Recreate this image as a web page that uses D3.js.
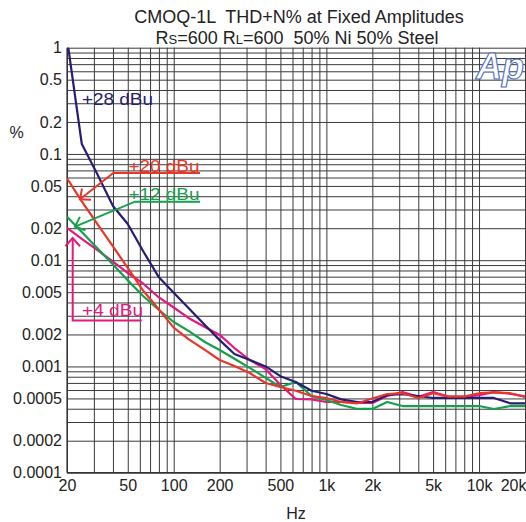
<!DOCTYPE html>
<html>
<head>
<meta charset="utf-8">
<script src="https://cdn.jsdelivr.net/npm/d3@7"></script>
<style>
  body { margin: 0; background: white; }
  text { font-family: "Liberation Sans", Arial, sans-serif; }
</style>
</head>
<body>
<div id="container"></div>
<script>
/* DATA */

// 1/3 octave sweep points, Hz
const freqs = [20, 25, 31.5, 40, 50, 63, 80, 100, 125, 160, 200, 250, 315, 400, 500, 630, 800,
  1000, 1250, 1600, 2000, 2500, 3150, 4000, 5000, 6300, 8000, 10000, 12500, 16000, 20000]

// THD+N %
const dBu28 = [1.22, 0.124, 0.065, 0.0324, 0.0219, 0.0122, 0.0069, 0.00493, 0.00355, 0.00245, 0.00177,
  0.00131, 0.00115, 0.00100, 0.00081, 0.000714, 0.00059, 0.00055, 0.00049, 0.000463, 0.000463,
  0.000539, 0.00055, 0.000527, 0.000505, 0.000505, 0.000505, 0.000505, 0.000505, 0.00045, 0.00045]
const dBu20 = [0.059, 0.0358, 0.0221, 0.0135, 0.00845, 0.00518, 0.00344, 0.00232, 0.00181, 0.00143, 0.00115,
  0.00101, 0.000867, 0.000698, 0.00064, 0.00059, 0.000527, 0.000505, 0.000463, 0.00045, 0.0005,
  0.00055, 0.00056, 0.000505, 0.00056, 0.00052, 0.00052, 0.00056, 0.00057, 0.00056, 0.00052]
const dBu12 = [0.0257, 0.0184, 0.013, 0.0091, 0.00646, 0.0046, 0.0034, 0.00262, 0.00216, 0.0017, 0.00143,
  0.00118, 0.00097, 0.00078, 0.00064, 0.000714, 0.000527, 0.000483, 0.000434, 0.000398, 0.000398,
  0.000463, 0.000424, 0.000424, 0.000424, 0.000424, 0.000424, 0.000424, 0.000398, 0.000424, 0.000424]
const dBu4 = [0.0201, 0.0159, 0.0125, 0.0097, 0.00758, 0.00604, 0.00446, 0.00359, 0.00286, 0.00235, 0.00198,
  0.00149, 0.00115, 0.000946, 0.00067, 0.000494, 0.00049, 0.000463, 0.000463, 0.000454, 0.000454,
  0.000527, 0.000574, 0.000517, 0.000574, 0.00052, 0.00052, 0.000537, 0.000574, 0.000553, 0.00052]

const xTickLabels = [20, 50, 100, 200, 500, 1000, 2000, 5000, 10000, 20000]
const yTickLabels = [1, 0.5, 0.2, 0.1, 0.05, 0.02, 0.01, 0.005, 0.002, 0.001, 0.0005, 0.0002, 0.0001]

/* CONSTANTS AND GLOBALS */

const W = 526, H = 522
const margin = {top: 47.7, right: 1, bottom: 49.3, left: 67}
const width = W - margin.left - margin.right
const height = H - margin.top - margin.bottom

const svg = d3.select("#container")
  .append("svg")
  .attr("width", W)
  .attr("height", H)
  .style("background-color", "white")

const g = svg.append("g")
  .attr("transform", `translate(${margin.left},${margin.top})`)

/* SCALES */
const xScale = d3.scaleLog().domain([20, 20000]).range([0, width])
const yScale = d3.scaleLog().domain([0.0001, 1]).range([height, 0])

// grid at every 1..9 multiple in each decade
const xGrid = []
for (let d = 10; d <= 10000; d *= 10)
  for (let m = 1; m <= 9; m++) { const f = d * m; if (f >= 20 && f <= 20000) xGrid.push(f) }
xGrid.push(20000)
const yGrid = []
for (let d = 0.0001; d < 1; d *= 10)
  for (let m = 1; m <= 9; m++) yGrid.push(+(d * m).toPrecision(3))
yGrid.push(1)

g.append("g")
  .attr("class", "grid")
  .attr("transform", `translate(0,${height})`)
  .call(d3.axisBottom(xScale).tickValues(xGrid).tickSize(-height).tickFormat(""))
g.append("g")
  .attr("class", "grid")
  .call(d3.axisLeft(yScale).tickValues(yGrid).tickSize(-width).tickFormat(""))
g.selectAll(".grid .domain").remove()
g.selectAll(".grid line").attr("stroke", "#3a3a3a").attr("stroke-width", 1)

// axis lines
g.append("line").attr("x1", 0).attr("x2", 0).attr("y1", 0).attr("y2", height)
  .attr("stroke", "#333").attr("stroke-width", 1.2)
g.append("line").attr("x1", 0).attr("x2", width).attr("y1", height).attr("y2", height)
  .attr("stroke", "#333").attr("stroke-width", 1.2)

// tick labels
const fmtX = d => d >= 1000 ? (d / 1000) + "k" : d
g.append("g")
  .attr("transform", `translate(0,${height})`)
  .call(d3.axisBottom(xScale).tickValues(xTickLabels).tickSize(0).tickPadding(7).tickFormat(fmtX))
  .call(a => a.select(".domain").remove())
  .selectAll("text").attr("font-size", 16).attr("fill", "#222")
    .attr("font-family", "Liberation Sans, Arial, sans-serif")
    // last label is pushed left so it stays on the page
    .filter(d => d === 20000).attr("text-anchor", "end").attr("x", 1)

g.append("g")
  .call(d3.axisLeft(yScale).tickValues(yTickLabels).tickSize(0).tickPadding(5).tickFormat(d => String(d)))
  .call(a => a.select(".domain").remove())
  .selectAll("text").attr("font-size", 16).attr("fill", "#222")
    .attr("font-family", "Liberation Sans, Arial, sans-serif")

/* LINES */
svg.append("clipPath").attr("id", "plotclip")
  .append("rect").attr("x", 0).attr("y", 0).attr("width", width).attr("height", height)

const series = [
  {name: "+4 dBu", values: dBu4, color: "#e5197d"},
  {name: "+12 dBu", values: dBu12, color: "#14a04c"},
  {name: "+28 dBu", values: dBu28, color: "#261d74"},
  {name: "+20 dBu", values: dBu20, color: "#e8372a"}
]

const line = d3.line()
  .x((d, i) => xScale(freqs[i]))
  .y(d => yScale(d))

g.append("g").attr("clip-path", "url(#plotclip)")
  .selectAll("path")
  .data(series)
  .join("path")
  .attr("d", d => line(d.values))
  .attr("fill", "none")
  .attr("stroke", d => d.color)
  .attr("stroke-width", 2.2)
  .attr("stroke-linejoin", "round")

/* ANNOTATIONS */
function arrowHead(tipX, tipY, angle, color) {
  // angle: direction the arrow points toward (radians)
  const len = 11, spread = 0.72
  const p = d3.path()
  p.moveTo(tipX - len * Math.cos(angle - spread), tipY - len * Math.sin(angle - spread))
  p.lineTo(tipX, tipY)
  p.lineTo(tipX - len * Math.cos(angle + spread), tipY - len * Math.sin(angle + spread))
  svg.append("path").attr("d", p.toString()).attr("fill", "none")
    .attr("stroke", color).attr("stroke-width", 2)
}

function label(txt, x, y, color, len) {
  svg.append("text").attr("x", x).attr("y", y).text(txt)
    .attr("font-size", 17).attr("fill", color)
    .attr("textLength", len).attr("lengthAdjust", "spacingAndGlyphs")
}

// +28 dBu
label("+28 dBu", 82, 104.5, "#261d74", 71)

// +20 dBu
label("+20 dBu", 128.5, 171.5, "#e8372a", 71)
svg.append("polyline").attr("points", "200,173 113.3,173 80,199.3")
  .attr("fill", "none").attr("stroke", "#e8372a").attr("stroke-width", 2)
arrowHead(80, 199.3, Math.atan2(199.3 - 173, 80 - 113.3), "#e8372a")

// +12 dBu
label("+12 dBu", 128.5, 199.5, "#14a04c", 71)
svg.append("polyline").attr("points", "200,201.7 135,201.7 75,226.7")
  .attr("fill", "none").attr("stroke", "#14a04c").attr("stroke-width", 2)
arrowHead(75, 226.7, Math.atan2(226.7 - 201.7, 75 - 135), "#14a04c")

// +4 dBu
label("+4 dBu", 82, 316, "#e5197d", 61)
svg.append("polyline").attr("points", "141.7,320.5 72.7,320.5 72.7,238")
  .attr("fill", "none").attr("stroke", "#e5197d").attr("stroke-width", 2)
arrowHead(72.7, 238, -Math.PI / 2, "#e5197d")

/* TITLES */
svg.append("text").attr("x", 299).attr("y", 22.5).attr("text-anchor", "middle")
  .attr("font-size", 18).attr("fill", "#222")
  .text("CMOQ-1L  THD+N% at Fixed Amplitudes")
  .style("white-space", "pre")

const sub = svg.append("text").attr("x", 297).attr("y", 44).attr("text-anchor", "middle")
  .attr("font-size", 18).attr("fill", "#222").style("white-space", "pre")
sub.append("tspan").text("R")
sub.append("tspan").attr("font-size", 13).text("S")
sub.append("tspan").text("=600 R")
sub.append("tspan").attr("font-size", 13).text("L")
sub.append("tspan").text("=600  50% Ni 50% Steel")

svg.append("text").attr("x", 16.5).attr("y", 138).attr("text-anchor", "middle")
  .attr("font-size", 16).attr("fill", "#222").text("%")
svg.append("text").attr("x", 296).attr("y", 519).attr("text-anchor", "middle")
  .attr("font-size", 16).attr("fill", "#222").text("Hz")

// Ap logo
svg.append("text").attr("x", 476).attr("y", 79)
  .attr("font-size", 36).attr("font-weight", "bold").attr("font-style", "italic")
  .attr("fill", "white").attr("stroke", "#4a6cc4").attr("stroke-width", 1.1)
  .text("Ap")
</script>
</body>
</html>
